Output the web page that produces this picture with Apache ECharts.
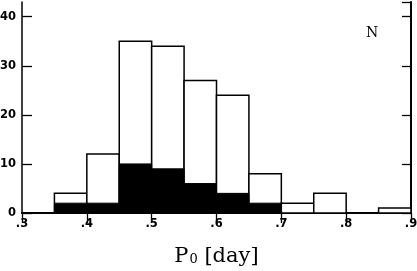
<!DOCTYPE html>
<html><head><meta charset="utf-8">
<script src="https://cdn.jsdelivr.net/npm/echarts@6/dist/echarts.min.js"></script>
<style>html,body{margin:0;padding:0;background:#fff}#c{width:417px;height:271px}</style>
</head><body><div id="c"></div>
<script>
var binStarts = [0.35, 0.40, 0.45, 0.50, 0.55, 0.60, 0.65, 0.70, 0.75, 0.80, 0.85];
var binWidth = 0.05;
var totalCounts = [4, 12, 35, 34, 27, 24, 8, 2, 4, 0, 1];
var filledCounts = [2, 2, 10, 9, 6, 4, 2, 0, 0, 0, 0];
var xTicks = [0.3, 0.4, 0.5, 0.6, 0.7, 0.8, 0.9];
var yTicks = [0, 10, 20, 30, 40];

function mk(counts) {
  return binStarts.map(function (s, i) { return [s, s + binWidth, counts[i]]; });
}
function renderer(fill, lw) {
  return function (params, api) {
    var v = api.value(2);
    if (v <= 0) return null;
    var p0 = api.coord([api.value(0), 0]);
    var p1 = api.coord([api.value(1), v]);
    return {
      type: 'rect',
      shape: { x: p0[0], y: p1[1], width: p1[0] - p0[0], height: p0[1] - p1[1] },
      style: { fill: fill, stroke: '#000', lineWidth: lw }
    };
  };
}
var chart = echarts.init(document.getElementById('c'));
var lblFont = { color: '#000', fontFamily: 'DejaVu Sans', fontWeight: 'bold', fontSize: 11.5 };
chart.setOption({
  animation: false,
  grid: { left: 22, right: 6, top: 2, bottom: 58, containLabel: false, outerBoundsMode: 'none' },
  xAxis: [{
    type: 'value', min: 0.3, max: 0.9, interval: 0.1, position: 'bottom',
    axisLine: { lineStyle: { color: '#000', width: 1.5 } },
    axisTick: { show: false },
    splitLine: { show: false },
    axisLabel: Object.assign({ margin: 5, formatter: function (v) { return v.toFixed(1).replace(/^0/, ''); } }, lblFont),
    name: '{p|P}{s|0} {p|[day]}', nameLocation: 'middle', nameGap: 33,
    nameTextStyle: {
      fontFamily: 'DejaVu Serif', fontSize: 21, color: '#000',
      rich: {
        p: { fontFamily: 'DejaVu Serif', fontSize: 21, color: '#000' },
        s: { fontFamily: 'DejaVu Serif', fontSize: 13, color: '#000', padding: [7, 0, 0, 1] }
      }
    }
  }, {
    type: 'value', min: 0.3, max: 0.9, interval: 0.1, position: 'top',
    axisLine: { show: true, lineStyle: { color: '#000', width: 2 } },
    axisTick: { show: true, inside: true, length: 10, lineStyle: { color: '#000', width: 1.3 } },
    axisLabel: { show: false }, splitLine: { show: false }
  }],
  yAxis: [{
    type: 'value', min: 0, max: 43, interval: 10, position: 'left',
    axisLine: { show: true, lineStyle: { color: '#000', width: 1.5 } },
    axisTick: { show: true, inside: true, length: 10, lineStyle: { color: '#000', width: 1.3 } },
    axisLabel: Object.assign({ margin: 6, showMaxLabel: false }, lblFont),
    splitLine: { show: false }
  }, {
    type: 'value', min: 0, max: 43, interval: 10, position: 'right',
    axisLine: { show: true, lineStyle: { color: '#000', width: 2 } },
    axisTick: { show: true, inside: true, length: 9, lineStyle: { color: '#000', width: 1.3 } },
    axisLabel: { show: false }, splitLine: { show: false }
  }],
  series: [{
    type: 'custom', xAxisIndex: 0, yAxisIndex: 0,
    renderItem: renderer('#fff', 1.5), data: mk(totalCounts), z: 2
  }, {
    type: 'custom', xAxisIndex: 0, yAxisIndex: 0,
    renderItem: renderer('#000', 1), data: mk(filledCounts), z: 3
  }],
  graphic: [{
    type: 'text', left: 366, top: 26,
    style: { text: 'N', font: '14px "DejaVu Serif"', fill: '#000' }
  }]
});
</script></body></html>
